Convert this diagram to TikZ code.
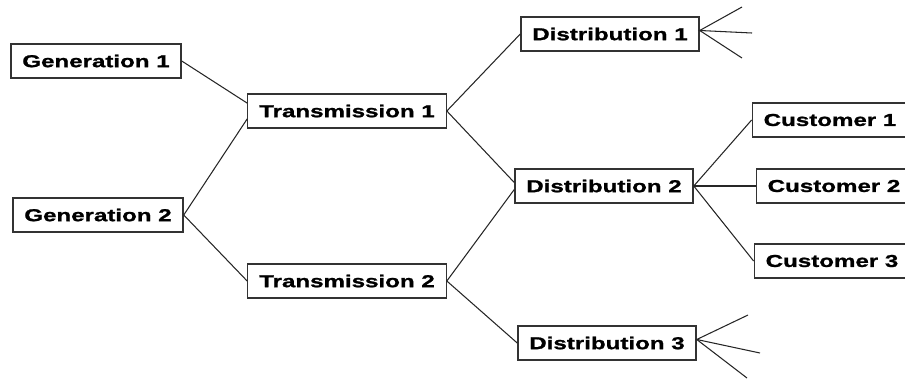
\documentclass[tikz,border=0pt]{standalone}
\usepackage{fontspec}
\newfontfamily\gridfont{Liberation Sans}[FakeStretch=1.4, BoldFeatures={FakeBold=1.2}]
\usepackage{tikz}
\tikzset{unit/.style={draw=black!80, line width=0.75pt, fill=white, inner xsep=6.5pt, inner ysep=0pt, minimum height=19.5pt, font=\gridfont\bfseries\fontsize{9.8}{11}\selectfont}}
\tikzset{link/.style={draw=black!85, line width=0.6pt}}

\begin{document}
\begin{tikzpicture}[x=0.02cm, y=-0.02cm]
\useasboundingbox (0,0) rectangle (905,380);

\node[unit] (g1) at (96,61) {Generation 1};
\node[unit] (g2) at (98,215) {Generation 2};

\node[unit] (t1) at (347,111) {Transmission 1};
\node[unit] (t2) at (347,281) {Transmission 2};

\node[unit] (d1) at (610,34) {Distribution 1};
\node[unit] (d2) at (604,186) {Distribution 2};
\node[unit] (d3) at (607,343) {Distribution 3};

\node[unit] (c1) at (830,120) {Customer 1};
\node[unit] (c2) at (834,186) {Customer 2};
\node[unit] (c3) at (832,261) {Customer 3};

% loose ends of the outer feeders
\coordinate (d1a) at (742,7);
\coordinate (d1b) at (752,33);
\coordinate (d1c) at (742,58);
\coordinate (d3a) at (748,315);
\coordinate (d3b) at (760,353);
\coordinate (d3c) at (747,378);

\draw[link] (g1.east) -- ([yshift=4.5pt]t1.west);
\draw[link] (g2.east) -- ([yshift=-4.5pt]t1.west);
\draw[link] (g2.east) -- (t2.west);

\draw[link] (t1.east) -- (d1.west);
\draw[link] (t1.east) -- ([yshift=2pt]d2.west);
\draw[link] (t2.east) -- ([yshift=-2pt]d2.west);
\draw[link] (t2.east) -- (d3.west);

\draw[link] (d2.east) -- (c1.west);
\draw[link] (d2.east) -- (c2.west);
\draw[link] (d2.east) -- (c3.west);

\draw[link] (d1a) -- ([yshift=2pt]d1.east) -- (d1b);
\draw[link] ([yshift=2pt]d1.east) -- (d1c);
\draw[link] (d3a) -- ([yshift=2pt]d3.east) -- (d3b);
\draw[link] ([yshift=2pt]d3.east) -- (d3c);
\end{tikzpicture}
\end{document}
